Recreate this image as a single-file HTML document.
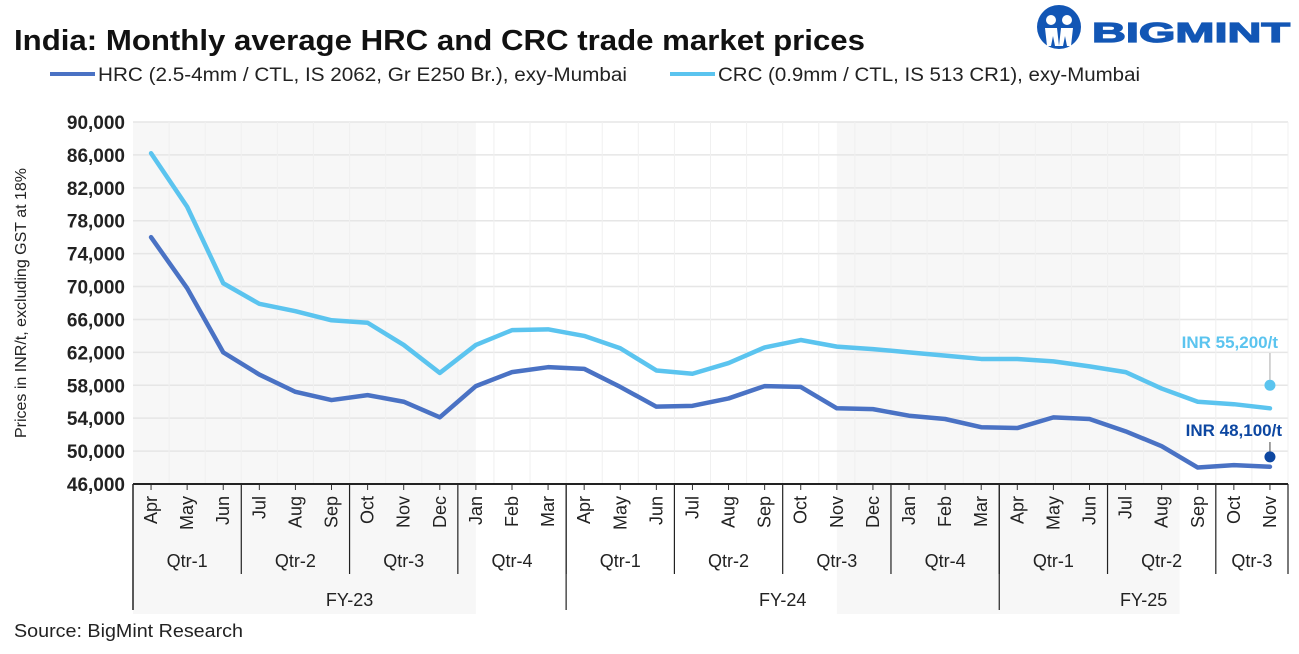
<!DOCTYPE html>
<html><head><meta charset="utf-8"><style>
body{margin:0;background:#fff;font-family:"Liberation Sans",sans-serif}
svg text{font-family:"Liberation Sans",sans-serif}
</style></head><body>
<svg id="c" width="1299" height="649" xmlns="http://www.w3.org/2000/svg">
<text x="14" y="50" font-size="29" font-weight="bold" fill="#111" textLength="851" lengthAdjust="spacingAndGlyphs">India: Monthly average HRC and CRC trade market prices</text>
<g>
<circle cx="1059" cy="27" r="22" fill="#1256b5"/>
<circle cx="1051" cy="20" r="5" fill="#fff"/><circle cx="1067" cy="20" r="5" fill="#fff"/>
<path d="M1045 28 h12 l2 18 h-4 l-2 -10 l-2 10 h-4z M1061 28 h12 l-2 18 h-4 l-2 -10 l-2 10 h-4z" fill="#fff"/>
<text x="1092" y="42" font-size="28" font-weight="bold" fill="#1256b5" stroke="#1256b5" stroke-width="1.2" textLength="198" lengthAdjust="spacingAndGlyphs">BIGMINT</text>
</g>
<g>
<line x1="50" y1="74" x2="95" y2="74" stroke="#4a72c4" stroke-width="4"/>
<text x="98" y="81" font-size="19" fill="#222" textLength="529" lengthAdjust="spacingAndGlyphs">HRC (2.5-4mm / CTL, IS 2062, Gr E250 Br.), exy-Mumbai</text>
<line x1="670" y1="74" x2="715" y2="74" stroke="#5bc4ef" stroke-width="4"/>
<text x="718" y="81" font-size="19" fill="#222" textLength="422" lengthAdjust="spacingAndGlyphs">CRC (0.9mm / CTL, IS 513 CR1), exy-Mumbai</text>
</g>
<text transform="translate(26,303) rotate(-90)" text-anchor="middle" font-size="16" fill="#222">Prices in INR/t, excluding GST at 18%</text>
<g id="bg"></g><g id="grid"></g><g id="axes"></g><g id="series"></g>
<text x="1278" y="348" text-anchor="end" font-size="17" font-weight="bold" fill="#5bc4ef">INR 55,200/t</text>
<text x="1282" y="436" text-anchor="end" font-size="17" font-weight="bold" fill="#0d47a1">INR 48,100/t</text>
<text x="14" y="637" font-size="18" fill="#222" textLength="229" lengthAdjust="spacingAndGlyphs">Source: BigMint Research</text>
</svg>
<script>
const months=["Apr","May","Jun","Jul","Aug","Sep","Oct","Nov","Dec","Jan","Feb","Mar","Apr","May","Jun","Jul","Aug","Sep","Oct","Nov","Dec","Jan","Feb","Mar","Apr","May","Jun","Jul","Aug","Sep","Oct","Nov"];
const hrc=[76000,69800,62000,59300,57200,56200,56800,56000,54100,57900,59600,60200,60000,57800,55400,55500,56400,57900,57800,55200,55100,54300,53900,52900,52800,54100,53900,52400,50600,48000,48300,48100];
const crc=[86200,79700,70400,67900,67000,65900,65600,62900,59500,62900,64700,64800,64000,62500,59800,59400,60700,62600,63500,62700,62400,62000,61600,61200,61200,60900,60300,59600,57600,56000,55700,55200];
const quarters=["Qtr-1","Qtr-2","Qtr-3","Qtr-4","Qtr-1","Qtr-2","Qtr-3","Qtr-4","Qtr-1","Qtr-2","Qtr-3"];
const quarterLen=[3,3,3,3,3,3,3,3,3,3,2];
const fys=["FY-23","FY-24","FY-25"];
const fyLen=[12,12,8];
const yTicks=[46000,50000,54000,58000,62000,66000,70000,74000,78000,82000,86000,90000];
const X0=133,X1=1288,Y0=122,Y1=484,YMIN=46000,YMAX=90000;
const cw=(X1-X0)/months.length;
const x=i=>X0+cw*(i+0.5);
const y=v=>Y1-(v-YMIN)/(YMAX-YMIN)*(Y1-Y0);
const NS="http://www.w3.org/2000/svg";
function mk(p,t,a){const e=document.createElementNS(NS,t);for(const k in a)e.setAttribute(k,a[k]);document.getElementById(p).appendChild(e);return e;}
[[0,9.5],[19.5,29]].forEach((b,i)=>{const r=mk('bg','rect',{x:X0+cw*b[0],y:Y0,width:cw*(b[1]-b[0]),height:492,fill:'#f7f7f7'});

});
yTicks.forEach(v=>{const l=mk('grid','line',{x1:X0,x2:X1,y1:y(v),y2:y(v),stroke:'#e6e6e6','stroke-width':1.5});


const t=mk('axes','text',{x:X0-8,y:y(v)+7,'text-anchor':'end','font-size':19,'font-weight':'bold',fill:'#222'});t.textContent=v.toLocaleString('en-US');

});
months.forEach((m,i)=>{const l=mk('grid','line',{x1:X0+cw*(i+1),x2:X0+cw*(i+1),y1:Y0,y2:Y1,stroke:'#f0f0f0'});


const tk=mk('axes','line',{x1:x(i),x2:x(i),y1:Y1,y2:Y1+6,stroke:'#333'});


const t=mk('axes','text',{transform:`translate(${x(i)+6},${Y1+12}) rotate(-90)`,'text-anchor':'end','font-size':18,fill:'#222'});t.textContent=m;

});
let a=mk('axes','line',{x1:X0,x2:X1,y1:Y1,y2:Y1,stroke:'#222','stroke-width':2});


a=mk('axes','line',{x1:X0,x2:X0,y1:Y1,y2:610,stroke:'#222','stroke-width':1.5});


let s=0;quarters.forEach((q,i)=>{const e=s+quarterLen[i];const xe=X0+cw*e;
const l=mk('axes','line',{x1:xe,x2:xe,y1:Y1,y2:574,stroke:'#222','stroke-width':1.2});


const t=mk('axes','text',{x:X0+cw*(s+e)/2,y:567,'text-anchor':'middle','font-size':18,fill:'#222'});t.textContent=q;

s=e;});
s=0;fys.forEach((f,i)=>{const e=s+fyLen[i];const xe=X0+cw*e;
if(i<fys.length-1){const l=mk('axes','line',{x1:xe,x2:xe,y1:Y1,y2:610,stroke:'#222','stroke-width':1.2});

}
const t=mk('axes','text',{x:X0+cw*(s+e)/2,y:606,'text-anchor':'middle','font-size':18,fill:'#222'});t.textContent=f;

s=e;});
function line(d,c,n){const p=mk('series','polyline',{points:d.map((v,i)=>x(i)+','+y(v)).join(' '),fill:'none',stroke:c,'stroke-width':4.5,'stroke-linejoin':'round','stroke-linecap':'round'});

}
line(crc,'#5bc4ef','crc-line');
line(hrc,'#4a72c4','hrc-line');
const n=months.length-1;
let l2=mk('series','line',{x1:x(n),x2:x(n),y1:353,y2:y(58000),stroke:'#aaa'});


let d=mk('series','circle',{cx:x(n),cy:y(58000),r:5.5,fill:'#5bc4ef'});


l2=mk('series','line',{x1:x(n),x2:x(n),y1:442,y2:y(49300),stroke:'#444'});


d=mk('series','circle',{cx:x(n),cy:y(49300),r:5.5,fill:'#0d47a1'});


</script>
</body></html>
